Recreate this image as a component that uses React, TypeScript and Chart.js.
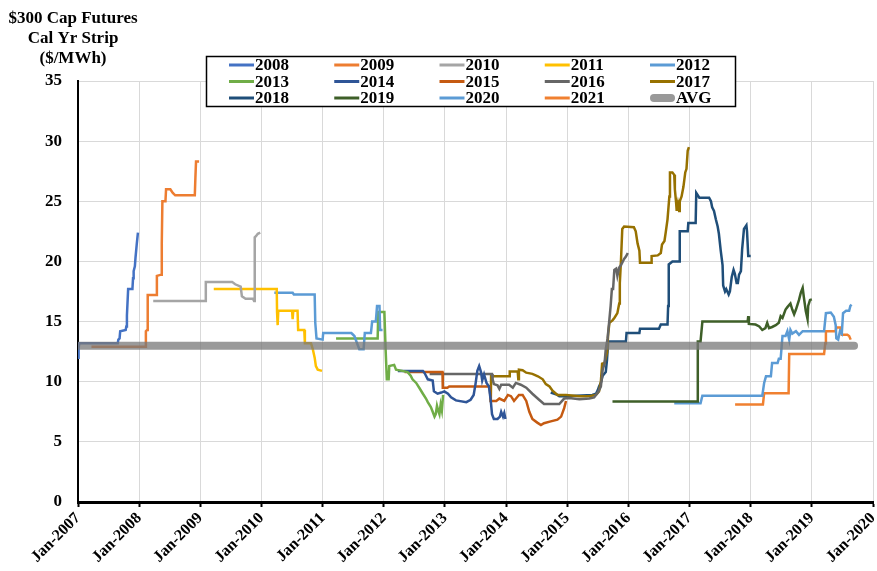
import React, { useEffect, useRef } from 'react';
import { Chart, registerables } from 'chart.js';

Chart.register(...registerables);

// ---------- data ----------
const titleLines = ['$300 Cap Futures', 'Cal Yr Strip', '($/MWh)'];
const xMinYear = 2007;
const xMaxYear = 2020;
const yMin = 0;
const yMax = 35;
const yStep = 5;
const avgValue = 13.0;
const avgSpan = [2007.0, 2019.69];

const s2008: number[][] = [[2007.00,12.0],[2007.01,12.8],[2007.02,13.2],[2007.65,13.2],[2007.66,13.5],[2007.68,13.6],[2007.69,14.2],[2007.78,14.3],[2007.79,14.6],[2007.80,15.5],[2007.82,17.7],[2007.89,17.7],[2007.90,18.6],[2007.91,19.2],[2007.93,19.6],[2007.94,20.3],[2007.96,21.4],[2007.98,22.4]];
const s2009: number[][] = [[2007.22,12.9],[2008.10,12.9],[2008.11,14.2],[2008.13,14.3],[2008.14,17.2],[2008.28,17.2],[2008.29,18.8],[2008.36,18.9],[2008.37,21.5],[2008.38,25.0],[2008.43,25.0],[2008.44,26.0],[2008.51,26.0],[2008.55,25.7],[2008.59,25.5],[2008.91,25.5],[2008.92,27.0],[2008.93,28.3],[2008.98,28.3]];
const s2010: number[][] = [[2008.23,16.7],[2009.08,16.7],[2009.09,18.3],[2009.52,18.3],[2009.57,18.1],[2009.66,17.9],[2009.68,17.1],[2009.74,16.9],[2009.86,16.9],[2009.88,16.7],[2009.89,22.0],[2009.91,22.1],[2009.94,22.3],[2009.98,22.4]];
const s2011: number[][] = [[2009.22,17.7],[2010.25,17.7],[2010.255,15.8],[2010.265,14.7],[2010.275,15.9],[2010.50,15.9],[2010.51,15.2],[2010.52,15.9],[2010.59,15.9],[2010.60,14.3],[2010.70,14.3],[2010.71,13.2],[2010.81,13.2],[2010.84,12.7],[2010.87,12.0],[2010.89,11.3],[2010.92,11.0],[2010.99,10.9]];
const s2012: number[][] = [[2010.21,17.4],[2010.51,17.4],[2010.53,17.25],[2010.87,17.25],[2010.88,14.9],[2010.90,13.6],[2011.00,13.5],[2011.01,14.05],[2011.47,14.05],[2011.52,13.8],[2011.57,13.1],[2011.60,12.7],[2011.67,12.7],[2011.69,14.05],[2011.79,14.05],[2011.81,15.0],[2011.87,15.0],[2011.89,16.3],[2011.93,16.3],[2011.94,14.3],[2011.98,14.3]];
const s2013: number[][] = [[2011.22,13.6],[2011.90,13.6],[2011.91,15.8],[2012.01,15.8],[2012.03,12.7],[2012.05,10.2],[2012.08,10.2],[2012.09,11.3],[2012.17,11.4],[2012.20,11.0],[2012.30,10.9],[2012.39,10.8],[2012.44,10.5],[2012.47,10.2],[2012.53,9.9],[2012.58,9.5],[2012.64,9.0],[2012.69,8.6],[2012.72,8.3],[2012.77,7.9],[2012.80,7.5],[2012.83,7.1],[2012.85,7.3],[2012.87,8.0],[2012.89,7.6],[2012.91,7.3],[2012.93,8.1],[2012.95,7.6],[2012.97,8.9]];
const s2014: number[][] = [[2012.23,10.9],[2012.64,10.9],[2012.67,10.7],[2012.69,10.5],[2012.72,10.2],[2012.80,10.1],[2012.82,9.2],[2012.88,9.0],[2012.94,9.1],[2012.99,9.2],[2013.05,9.0],[2013.10,8.7],[2013.18,8.45],[2013.35,8.3],[2013.42,8.5],[2013.47,8.9],[2013.50,9.8],[2013.53,10.9],[2013.56,11.3],[2013.59,10.8],[2013.61,10.1],[2013.64,10.6],[2013.68,9.9],[2013.72,9.6],[2013.75,8.4],[2013.77,7.3],[2013.80,6.9],[2013.86,6.9],[2013.90,7.1],[2013.92,7.5],[2013.95,7.1],[2013.97,7.4],[2013.99,6.9]];
const s2015: number[][] = [[2012.34,10.8],[2012.96,10.8],[2012.965,9.5],[2013.04,9.5],[2013.07,9.6],[2013.73,9.6],[2013.75,8.4],[2013.84,8.4],[2013.89,8.6],[2013.97,8.4],[2014.03,8.9],[2014.08,8.8],[2014.13,8.4],[2014.21,8.9],[2014.27,8.9],[2014.33,8.4],[2014.38,7.5],[2014.43,6.9],[2014.51,6.6],[2014.57,6.4],[2014.62,6.55],[2014.73,6.7],[2014.84,6.85],[2014.90,7.1],[2014.95,7.8],[2014.98,8.4]];
const s2016: number[][] = [[2012.75,10.65],[2013.77,10.65],[2013.78,10.2],[2013.80,9.8],[2013.86,9.7],[2013.89,9.4],[2013.92,9.75],[2014.05,9.75],[2014.11,9.5],[2014.16,9.9],[2014.24,9.75],[2014.33,9.5],[2014.43,9.0],[2014.54,8.5],[2014.62,8.15],[2014.87,8.15],[2014.95,8.6],[2015.03,8.65],[2015.20,8.55],[2015.36,8.6],[2015.44,8.7],[2015.50,9.1],[2015.55,9.6],[2015.58,11.0],[2015.61,11.5],[2015.63,12.7],[2015.66,13.6],[2015.69,15.2],[2015.71,16.3],[2015.73,17.7],[2015.75,17.7],[2015.77,19.3],[2015.80,19.4],[2015.82,18.8],[2015.85,19.5],[2015.88,19.7],[2015.93,20.2],[2015.96,20.4],[2015.99,20.7]];
const s2017: number[][] = [[2013.75,8.3],[2013.755,10.45],[2014.05,10.45],[2014.06,10.85],[2014.19,10.85],[2014.20,10.2],[2014.21,11.0],[2014.27,10.95],[2014.33,10.75],[2014.43,10.65],[2014.52,10.45],[2014.60,10.2],[2014.65,9.8],[2014.71,9.6],[2014.76,9.25],[2014.84,8.9],[2014.98,8.9],[2015.20,8.8],[2015.36,8.8],[2015.47,8.9],[2015.52,9.2],[2015.55,10.0],[2015.57,11.5],[2015.61,11.55],[2015.63,12.0],[2015.65,12.4],[2015.67,14.0],[2015.69,14.9],[2015.74,15.1],[2015.77,15.3],[2015.82,15.7],[2015.85,16.5],[2015.86,18.2],[2015.88,20.2],[2015.90,22.7],[2015.93,22.9],[2016.09,22.85],[2016.12,22.5],[2016.15,21.5],[2016.18,20.9],[2016.19,19.9],[2016.37,19.9],[2016.38,20.45],[2016.48,20.5],[2016.53,20.7],[2016.55,21.4],[2016.59,21.7],[2016.61,22.4],[2016.64,23.5],[2016.67,25.4],[2016.68,27.4],[2016.72,27.4],[2016.75,27.2],[2016.76,26.0],[2016.78,24.9],[2016.79,24.2],[2016.81,24.8],[2016.83,24.2],[2016.84,25.0],[2016.87,25.4],[2016.90,26.2],[2016.93,27.4],[2016.95,27.7],[2016.97,29.2],[2016.99,29.5]];
const s2018: number[][] = [[2014.73,9.1],[2014.84,8.9],[2014.87,8.8],[2014.98,8.8],[2015.41,8.9],[2015.47,9.0],[2015.50,9.3],[2015.52,9.6],[2015.55,9.9],[2015.58,10.5],[2015.63,10.8],[2015.65,11.8],[2015.67,13.35],[2015.96,13.35],[2015.97,14.05],[2016.18,14.05],[2016.19,14.4],[2016.50,14.4],[2016.53,14.75],[2016.64,14.75],[2016.65,16.3],[2016.66,19.75],[2016.72,20.0],[2016.83,20.0],[2016.84,22.5],[2016.97,22.5],[2016.98,23.2],[2017.10,23.2],[2017.11,25.7],[2017.16,25.3],[2017.32,25.3],[2017.35,25.0],[2017.37,24.5],[2017.40,24.2],[2017.43,23.5],[2017.46,22.9],[2017.48,22.3],[2017.51,20.9],[2017.54,19.7],[2017.55,18.0],[2017.58,17.5],[2017.60,17.7],[2017.64,17.25],[2017.66,17.5],[2017.69,18.7],[2017.72,19.3],[2017.74,19.0],[2017.77,18.2],[2017.79,18.2],[2017.81,18.9],[2017.84,19.2],[2017.86,21.0],[2017.89,22.7],[2017.93,23.0],[2017.94,22.5],[2017.96,20.45],[2018.00,20.45]];
const s2019: number[][] = [[2015.74,8.36],[2017.13,8.36],[2017.135,13.35],[2017.18,13.35],[2017.21,15.0],[2017.95,15.0],[2017.96,15.45],[2017.97,14.8],[2018.08,14.75],[2018.14,14.6],[2018.19,14.3],[2018.24,14.45],[2018.27,14.9],[2018.30,14.45],[2018.35,14.55],[2018.41,14.7],[2018.46,14.9],[2018.49,15.45],[2018.52,15.3],[2018.57,16.0],[2018.60,16.2],[2018.65,16.5],[2018.68,16.0],[2018.71,15.6],[2018.74,16.0],[2018.79,16.8],[2018.82,17.4],[2018.85,17.8],[2018.87,17.0],[2018.90,15.9],[2018.93,15.2],[2018.94,16.3],[2018.97,16.8],[2019.00,16.85]];
const s2020: number[][] = [[2016.75,8.2],[2017.18,8.2],[2017.21,8.83],[2018.19,8.83],[2018.22,9.9],[2018.25,10.45],[2018.33,10.45],[2018.35,11.55],[2018.44,11.55],[2018.46,11.9],[2018.49,11.9],[2018.52,13.8],[2018.57,13.8],[2018.60,14.2],[2018.63,13.5],[2018.65,14.3],[2018.68,14.0],[2018.74,14.2],[2018.79,13.9],[2018.85,14.2],[2019.20,14.2],[2019.23,15.7],[2019.31,15.75],[2019.36,15.4],[2019.39,14.7],[2019.40,13.6],[2019.43,13.5],[2019.46,14.2],[2019.49,14.0],[2019.51,15.7],[2019.56,15.9],[2019.61,15.9],[2019.63,16.3],[2019.65,16.4]];
const s2021: number[][] = [[2017.745,8.1],[2018.20,8.1],[2018.22,9.05],[2018.62,9.05],[2018.63,12.3],[2019.20,12.3],[2019.22,13.2],[2019.23,14.2],[2019.39,14.2],[2019.40,14.5],[2019.47,14.5],[2019.49,13.9],[2019.58,13.9],[2019.61,13.8],[2019.635,13.5]];

const seriesLabels = ['2008','2009','2010','2011','2012','2013','2014','2015','2016','2017','2018','2019','2020','2021'];
const seriesData = [s2008,s2009,s2010,s2011,s2012,s2013,s2014,s2015,s2016,s2017,s2018,s2019,s2020,s2021];
const seriesColors = ['#4472C4','#ED7D31','#A5A5A5','#FFC000','#5B9BD5','#70AD47','#2F5597','#C55A11','#666666','#977100','#1F4E79','#3E5F28','#5B9BD5','#F08030'];
const avgLabel = 'AVG';
const avgColor = 'rgba(120,120,120,0.75)';

const FONT = '"Liberation Serif", "Times New Roman", Times, serif';

const overlayPlugin = {
  id: 'overlay',
  afterDraw(chart: any) {
    const ctx = chart.ctx as CanvasRenderingContext2D;
    ctx.save();
    ctx.font = `bold 17px ${FONT}`;
    ctx.fillStyle = '#000';
    ctx.textAlign = 'center';
    ctx.textBaseline = 'middle';
    titleLines.forEach((t, i) => ctx.fillText(t, 73, 19 + i * 20));

    // legend box
    const bx = 206, by = 56, bw = 529, bh = 50;
    ctx.fillStyle = '#fff';
    ctx.fillRect(bx, by, bw, bh);
    ctx.strokeStyle = '#000';
    ctx.lineWidth = 1.5;
    ctx.strokeRect(bx + 0.5, by + 0.5, bw, bh);
    ctx.textAlign = 'left';
    chart.data.datasets.forEach((ds: any, i: number) => {
      const col = i % 5;
      const row = Math.floor(i / 5);
      const x = 229 + col * 105.25;
      const y = 65 + row * 16.5;
      const isAvg = ds.label === avgLabel;
      ctx.strokeStyle = isAvg ? 'rgb(153,153,153)' : ds.borderColor;
      ctx.lineWidth = isAvg ? 8 : 3;
      ctx.lineCap = isAvg ? 'round' : 'butt';
      ctx.beginPath();
      if (isAvg) { ctx.moveTo(x + 4, y); ctx.lineTo(x + 21, y); }
      else { ctx.moveTo(x, y); ctx.lineTo(x + 25, y); }
      ctx.stroke();
      ctx.fillStyle = '#000';
      ctx.fillText(ds.label, x + 26, y + 1);
    });
    ctx.restore();
  },
};

export default function App() {
  const ref = useRef<HTMLCanvasElement | null>(null);
  useEffect(() => {
    document.body.style.margin = '0';
    const datasets: any[] = seriesData.map((arr, i) => ({
      label: seriesLabels[i],
      data: arr.map(([x, y]) => ({ x, y })),
      borderColor: seriesColors[i],
      backgroundColor: seriesColors[i],
      borderWidth: 2.5,
      pointRadius: 0,
      tension: 0,
      fill: false,
    }));
    datasets.push({
      label: avgLabel,
      data: avgSpan.map((x) => ({ x, y: avgValue })),
      borderColor: avgColor,
      backgroundColor: avgColor,
      borderWidth: 8,
      borderCapStyle: 'round',
      pointRadius: 0,
      fill: false,
      order: -1,
      clip: 0,
    });
    const chart = new Chart(ref.current as HTMLCanvasElement, {
      type: 'line',
      data: { datasets },
      options: {
        animation: false,
        responsive: false,
        devicePixelRatio: 1,
        layout: { padding: { top: 81, right: 4, left: 0, bottom: 0 } },
        plugins: { legend: { display: false }, tooltip: { enabled: false }, title: { display: false } },
        scales: {
          x: {
            type: 'linear',
            min: xMinYear,
            max: xMaxYear,
            afterFit: (s: any) => { s.height = 69; s.paddingRight = 0; s.paddingLeft = 0; },
            ticks: {
              stepSize: 1,
              autoSkip: false,
              minRotation: 45,
              maxRotation: 45,
              padding: 2,
              color: '#000',
              font: { family: FONT, size: 16, weight: 'bold' },
              callback: (v: any) => 'Jan-' + v,
            },
            grid: { color: '#d9d9d9', lineWidth: 1, tickColor: '#000', tickLength: 5, tickWidth: 2 },
            border: { color: '#000', width: 3 },
          },
          y: {
            min: yMin,
            max: yMax,
            afterFit: (s: any) => { s.width = 78; },
            ticks: {
              stepSize: yStep,
              padding: 16,
              color: '#000',
              font: { family: FONT, size: 17, weight: 'bold' },
            },
            grid: { color: '#d9d9d9', lineWidth: 1, drawTicks: false },
            border: { color: '#000', width: 2 },
          },
        },
      },
      plugins: [overlayPlugin],
    } as any);
    return () => chart.destroy();
  }, []);
  return (
    <div style={{ position: 'absolute', left: 0, top: 0, width: 877, height: 571, background: '#fff' }}>
      <canvas ref={ref} width={877} height={571} />
    </div>
  );
}
